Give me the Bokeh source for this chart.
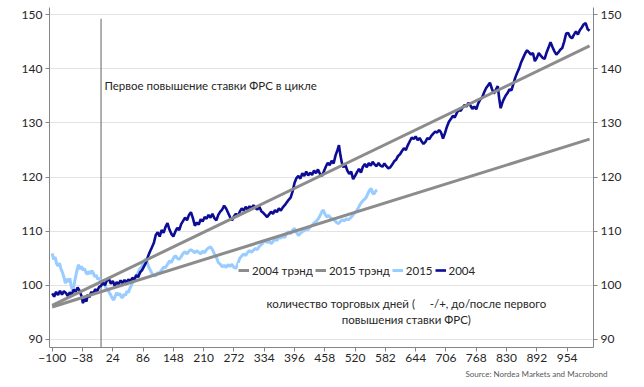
from bokeh.plotting import figure
from bokeh.models import (Range1d, LinearAxis, FixedTicker, Legend, LegendItem, Label, Title)
from bokeh.embed import file_html
from bokeh.resources import INLINE

FONT = "Lato"

# ---------------- data ----------------
days_2004 = [-100, -96, -92, -88, -84, -80, -76, -72, -68, -64, -60, -56, -52, -48, -44, -40, -37, -34, -30, -27,
             -24, -20, -16, -12, -8, -4, 0, 4, 8, 12, 16, 20, 24, 28, 32, 36, 40, 44, 48, 52,
             56, 60, 64, 68, 72, 76, 80, 84, 88, 92, 96, 100, 104, 108, 112, 116, 120, 124, 128, 132,
             136, 140, 144, 148, 152, 156, 160, 164, 168, 172, 176, 180, 184, 188, 192, 196, 200, 204, 208, 212,
             216, 220, 224, 228, 232, 236, 240, 244, 248, 252, 256, 260, 264, 268, 272, 276, 280, 284, 288, 292,
             296, 300, 304, 308, 312, 316, 320, 324, 328, 332, 336, 340, 344, 348, 352, 356, 360, 364, 368, 372,
             376, 380, 384, 388, 392, 396, 400, 404, 408, 412, 416, 420, 424, 428, 432, 436, 440, 444, 448, 452,
             456, 460, 464, 468, 472, 476, 480, 484, 487, 490, 493, 496, 500, 504, 508, 512, 516, 520, 524, 528,
             532, 536, 540, 544, 548, 552, 556, 560, 564, 568, 572, 576, 580, 584, 588, 592, 596, 600, 604, 608,
             612, 616, 620, 624, 628, 632, 636, 640, 644, 648, 652, 656, 660, 664, 668, 672, 676, 680, 684, 688,
             692, 696, 700, 704, 708, 712, 716, 720, 724, 728, 732, 736, 740, 744, 748, 752, 756, 760, 764, 768,
             772, 776, 780, 784, 788, 792, 796, 800, 804, 808, 812, 815, 818, 821, 824, 828, 832, 836, 840, 844,
             848, 852, 856, 860, 864, 868, 872, 876, 880, 884, 888, 892, 896, 900, 904, 908, 912, 916, 920, 924,
             928, 932, 936, 940, 944, 948, 952, 956, 960, 964, 968, 972, 976, 980, 984, 988, 992, 996, 1000]
vals_2004 = [98.5, 97.9, 98.8, 98.2, 99.0, 98.3, 98.9, 98.6, 98.0, 98.7, 98.3, 99.2, 98.8, 99.6, 99.0, 98.0, 96.7, 97.5, 97.0, 98.3,
             97.8, 98.8, 98.4, 99.3, 98.9, 99.7, 99.9, 100.5, 100.0, 100.9, 101.2, 100.3, 100.8, 99.9, 100.6, 100.2, 100.9, 100.4, 101.0, 100.5,
             101.1, 100.7, 101.4, 101.0, 101.9, 101.5, 102.4, 102.8, 103.5, 104.2, 105.3, 106.2, 107.0, 107.8, 109.3, 109.8, 109.0, 110.2, 109.7, 110.8,
             111.5, 110.3, 109.5, 109.0, 109.9, 110.6, 110.2, 111.3, 111.9, 112.5, 112.0, 113.0, 113.5, 112.4, 111.0, 111.6, 111.2, 112.2, 111.8, 112.6,
             112.3, 113.0, 112.5, 113.2, 112.4, 112.0, 113.0, 113.6, 114.0, 114.7, 114.2, 113.4, 112.6, 112.0, 112.7, 113.2, 112.8, 113.6, 114.2, 113.8,
             114.5, 114.0, 114.6, 114.2, 114.8, 114.3, 114.0, 114.5, 113.7, 113.4, 113.0, 112.6, 113.1, 113.6, 113.2, 113.9, 113.5, 114.2, 113.8, 114.4,
             114.8, 115.3, 115.8, 116.2, 117.3, 118.9, 119.8, 120.2, 119.7, 120.7, 120.2, 121.0, 120.3, 120.8, 120.4, 121.2, 120.7, 121.4, 120.6, 120.2,
             121.0, 121.9, 122.6, 122.2, 123.0, 122.5, 124.0, 125.0, 125.9, 124.0, 122.6, 121.8, 122.3, 121.2, 120.6, 121.0, 119.6, 120.2, 120.9, 121.5,
             120.8, 121.9, 122.4, 121.8, 122.6, 122.1, 122.8, 122.3, 122.0, 122.6, 122.1, 121.9, 122.5, 122.0, 121.6, 121.8, 122.3, 122.9, 123.2, 123.9,
             124.2, 124.8, 125.3, 125.0, 125.9, 126.6, 127.3, 127.0, 127.5, 126.8, 127.2, 126.6, 126.1, 126.5, 127.2, 127.0, 127.6, 128.0, 128.4, 128.2,
             128.7, 128.2, 127.1, 128.1, 129.3, 130.2, 130.7, 131.3, 131.0, 131.8, 132.4, 132.2, 132.8, 133.3, 133.0, 133.7, 133.2, 132.6, 133.0, 132.5,
             133.6, 134.3, 134.7, 135.6, 136.4, 136.9, 137.4, 136.3, 135.4, 136.1, 136.8, 134.5, 132.7, 133.6, 134.3, 135.0, 135.5, 136.2, 136.0, 137.2,
             138.4, 139.3, 140.1, 141.2, 142.0, 142.8, 143.4, 143.0, 142.6, 142.9, 141.4, 142.0, 142.9, 142.4, 142.0, 141.8, 143.0, 143.9, 144.9, 144.0,
             143.2, 142.6, 143.0, 143.5, 143.8, 145.0, 146.5, 146.6, 145.9, 145.6, 146.3, 146.9, 146.3, 147.1, 147.6, 148.2, 148.4, 147.3, 147.0]

days_2015 = [-100, -97, -94, -91, -88, -85, -82, -79, -76, -73, -70, -67, -64, -61, -58, -55, -52, -49, -46, -43,
             -40, -37, -34, -31, -28, -25, -22, -19, -16, -13, -10, -7, -4, -1, 2, 5, 8, 11, 14, 17,
             20, 23, 26, 29, 32, 35, 38, 41, 44, 47, 50, 53, 56, 59, 62, 65, 68, 71, 74, 77,
             80, 83, 86, 89, 92, 95, 98, 101, 104, 107, 110, 113, 116, 119, 122, 125, 128, 131, 134, 137,
             140, 144, 148, 152, 156, 160, 164, 168, 172, 176, 180, 184, 188, 192, 196, 200, 204, 208, 212, 216,
             220, 224, 228, 232, 236, 240, 244, 248, 252, 256, 260, 264, 268, 272, 276, 280, 284, 288, 292, 296,
             300, 304, 308, 312, 316, 320, 324, 328, 332, 336, 340, 344, 348, 352, 356, 360, 364, 368, 372, 376,
             380, 384, 388, 392, 396, 400, 404, 408, 412, 416, 420, 424, 428, 432, 436, 440, 444, 448, 452, 455,
             458, 462, 466, 470, 474, 478, 482, 486, 490, 494, 498, 502, 506, 510, 514, 518, 522, 526, 530, 534,
             538, 542, 546, 550, 553, 556, 559, 562, 565]
vals_2015 = [105.9, 104.8, 105.2, 104.0, 103.6, 104.1, 103.0, 102.4, 101.5, 100.4, 101.2, 100.6, 101.3, 99.9, 98.9, 100.2, 101.6, 102.9, 103.8, 103.0,
             103.5, 102.8, 103.1, 102.4, 102.0, 102.6, 102.1, 102.7, 102.3, 101.6, 101.9, 101.1, 101.4, 100.7, 101.0, 100.3, 100.0, 99.3, 99.4, 98.6,
             98.2, 97.6, 97.3, 98.0, 98.6, 98.2, 98.5, 97.9, 97.7, 98.4, 98.1, 98.9, 98.7, 99.4, 100.0, 100.6, 101.1, 101.5, 102.0, 102.6,
             103.1, 103.4, 104.0, 104.6, 104.9, 104.1, 103.3, 102.8, 102.2, 102.0, 101.7, 101.9, 102.4, 102.0, 102.6, 102.9, 103.4, 103.2, 103.6, 104.0,
             104.5, 104.2, 105.0, 105.5, 105.0, 104.8, 105.3, 105.9, 106.2, 105.8, 106.3, 106.6, 106.3, 106.0, 106.4, 106.1, 105.8, 106.3, 106.0, 106.6,
             106.9, 107.1, 106.6, 105.8, 105.2, 104.2, 103.9, 103.4, 103.7, 103.3, 103.8, 103.5, 103.9, 103.3, 103.1, 104.0, 105.0, 105.4, 105.8, 105.5,
             106.1, 106.4, 106.1, 106.5, 106.8, 106.6, 107.2, 107.5, 107.9, 108.3, 107.9, 108.2, 107.7, 108.1, 108.5, 108.3, 108.9, 108.7, 109.2, 108.8,
             109.6, 109.9, 109.5, 110.2, 110.5, 109.8, 109.2, 109.6, 109.9, 110.1, 110.4, 110.3, 110.8, 111.1, 111.5, 111.8, 112.2, 112.8, 113.6, 113.9,
             113.2, 112.6, 112.9, 112.4, 112.3, 112.0, 111.6, 111.4, 111.8, 112.1, 111.9, 112.3, 112.1, 112.4, 112.8, 113.3, 113.6, 114.2, 114.9, 115.4,
             115.8, 116.1, 116.9, 117.6, 117.9, 117.0, 116.9, 117.4, 117.6]

trend_days = [-100, 1000]
trend_2004 = [96.3, 144.2]
trend_2015 = [96.0, 127.0]

first_hike_day = 0
first_hike_line_top = 149.2

x_ticks = [-100, -38, 24, 86, 148, 210, 272, 334, 396, 458, 520, 582, 644, 706, 768, 830, 892, 954]
y_ticks = [90, 100, 110, 120, 130, 140, 150]

C_DARK = "#0c0c94"
C_LIGHT = "#99ccff"
C_TREND = "#8c8c8c"
C_AXIS = "#868686"
C_TEXT = "#262626"

Y0, Y1 = 88.52, 151.3

# ---------------- figure ----------------
p = figure(width=628, height=384, output_backend="svg", toolbar_location=None,
           x_range=Range1d(-105.5, 1008), y_range=Range1d(Y0, Y1),
           min_border_left=49, min_border_right=35, min_border_top=7, min_border_bottom=37)
p.outline_line_color = None
p.background_fill_color = "white"
p.border_fill_color = "white"

p.xgrid.visible = False
p.ygrid.grid_line_color = "#e3e3e3"
p.ygrid.ticker = FixedTicker(ticks=y_ticks)

def style_axis(ax):
    ax.axis_line_color = C_AXIS
    ax.major_tick_line_color = C_AXIS
    ax.minor_tick_line_color = None
    ax.major_tick_out = 4
    ax.major_tick_in = 0
    ax.major_label_text_font = FONT
    ax.major_label_text_font_size = "12px"
    ax.major_label_text_color = C_TEXT

p.xaxis.ticker = FixedTicker(ticks=x_ticks)
p.xaxis.major_label_standoff = 2
style_axis(p.xaxis[0])
p.yaxis.ticker = FixedTicker(ticks=y_ticks)
p.yaxis.major_label_standoff = 3
style_axis(p.yaxis[0])

right_axis = LinearAxis(ticker=FixedTicker(ticks=y_ticks), major_label_standoff=3)
style_axis(right_axis)
p.add_layout(right_axis, "right")

# source note below the axis
p.add_layout(Title(text="Source: Nordea Markets and Macrobond", align="right",
                   text_font=FONT, text_font_size="8px", text_font_style="normal",
                   text_color="#595959", offset=-14, standoff=4), "below")

# vertical line: first hike
p.segment(x0=[first_hike_day], y0=[Y0], x1=[first_hike_day], y1=[first_hike_line_top],
          line_color="#7a7a7a", line_width=1.2)

# series
r_15 = p.line(days_2015, vals_2015, line_color=C_LIGHT, line_width=3)
r_04 = p.line(days_2004, vals_2004, line_color=C_DARK, line_width=2.6)
r_t04 = p.line(trend_days, trend_2004, line_color=C_TREND, line_width=3)
r_t15 = p.line(trend_days, trend_2015, line_color=C_TREND, line_width=3)

legend = Legend(items=[LegendItem(label="2004 трэнд", renderers=[r_t04]),
                       LegendItem(label="2015 трэнд", renderers=[r_t15]),
                       LegendItem(label="2015", renderers=[r_15]),
                       LegendItem(label="2004", renderers=[r_04])],
                orientation="horizontal", location=(189, 70),
                glyph_width=11, glyph_height=14, label_standoff=3, spacing=2,
                padding=2, margin=0, border_line_color=None,
                background_fill_color="white", background_fill_alpha=1.0,
                label_text_font=FONT, label_text_font_size="11.5px",
                label_text_color=C_TEXT, label_height=14)
p.add_layout(legend, "center")

# texts
p.add_layout(Label(x=7, y=136.9, text="Первое повышение ставки ФРС в цикле",
                   text_font=FONT, text_font_size="11.5px", text_color=C_TEXT,
                   text_baseline="middle", text_align="left"))
p.add_layout(Label(x=625, y=96.7,
                   text="количество торговых дней (\u00a0\u00a0\u00a0\u00a0\u00a0-/+, до/после первого",
                   text_font=FONT, text_font_size="11.5px", text_color=C_TEXT,
                   text_baseline="middle", text_align="center"))
p.add_layout(Label(x=625, y=93.7, text="повышения ставки ФРС)",
                   text_font=FONT, text_font_size="11.5px", text_color=C_TEXT,
                   text_baseline="middle", text_align="center"))

open("out.html", "w").write(file_html(p, INLINE))
